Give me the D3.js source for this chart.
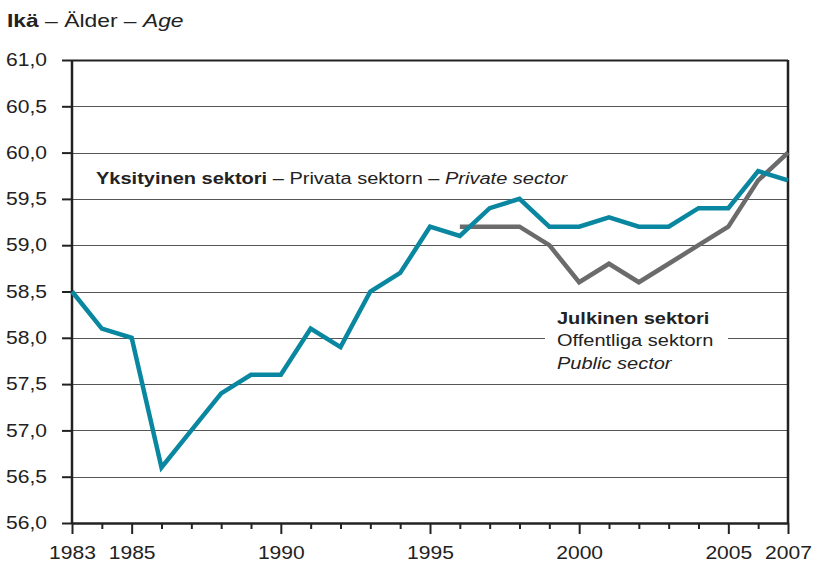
<!DOCTYPE html>
<html>
<head>
<meta charset="utf-8">
<script src="https://cdn.jsdelivr.net/npm/d3@7/dist/d3.min.js"></script>
<style>
  body { margin: 0; background: #fff; }
  svg { font-family: "Liberation Sans", Arial, sans-serif; }
</style>
</head>
<body>
<script>
(function () {
  "use strict";

  var years = d3.range(1983, 2008);
  var privateAge = [58.5, 58.1, 58.0, 56.6, 57.0, 57.4, 57.6, 57.6, 58.1, 57.9,
                    58.5, 58.7, 59.2, 59.1, 59.4, 59.5, 59.2, 59.2, 59.3, 59.2,
                    59.2, 59.4, 59.4, 59.8, 59.7];
  var publicYears = d3.range(1996, 2008);
  var publicAge = [59.2, 59.2, 59.2, 59.0, 58.6, 58.8, 58.6, 58.8, 59.0, 59.2, 59.7, 60.0];
  var yTicks = [56.0, 56.5, 57.0, 57.5, 58.0, 58.5, 59.0, 59.5, 60.0, 60.5, 61.0];
  var xLabels = [1983, 1985, 1990, 1995, 2000, 2005, 2007];

  var margin = {top: 60, right: 32, bottom: 42, left: 72},
      outerWidth = 820,
      outerHeight = 565,
      width = outerWidth - margin.left - margin.right,
      height = outerHeight - margin.top - margin.bottom,
      stretch = 1.25,
      tickStretch = 1.17;

  // the original type is set wide: stretch text horizontally
  function widen(selection, k) {
    selection.each(function () {
      var el = d3.select(this);
      var xv = +el.attr('x') || 0;
      el.attr('x', xv / k).attr('transform', 'scale(' + k + ',1)');
      el.selectAll('tspan').each(function () {
        var t = d3.select(this);
        if (t.attr('x') !== null) { t.attr('x', +t.attr('x') / k); }
      });
    });
  }

  var svg = d3.select('body').append('svg')
      .attr('width', outerWidth)
      .attr('height', outerHeight);

  var g = svg.append('g')
      .attr('transform', 'translate(' + margin.left + ',' + margin.top + ')');

  var x = d3.scaleLinear().domain([1983, 2007]).range([0, width]);
  var y = d3.scaleLinear().domain([56, 61]).range([height, 0]);
  var fmt = function (d) { return d3.format('.1f')(d).replace('.', ','); };

  // title
  var title = svg.append('text')
      .attr('x', 7).attr('y', 27)
      .style('font-size', '18px').style('fill', '#222');
  title.append('tspan').style('font-weight', 'bold').text('Ikä');
  title.append('tspan').text(' – Älder – ');
  title.append('tspan').style('font-style', 'italic').text('Age');
  widen(title, 1.27);

  // gridlines
  g.selectAll('.grid')
      .data(yTicks.slice(1))
      .enter()
    .append('line')
      .attr('class', 'grid')
      .attr('x1', 0).attr('x2', width)
      .attr('y1', function (d) { return Math.round(y(d)) + 0.5; })
      .attr('y2', function (d) { return Math.round(y(d)) + 0.5; })
      .style('stroke', function (d) { return d === 61 ? '#222' : '#555'; })
      .style('stroke-width', function (d) { return d === 61 ? 2 : 1; });

  // right border
  g.append('line')
      .attr('x1', width).attr('x2', width)
      .attr('y1', 0).attr('y2', height)
      .style('stroke', '#222').style('stroke-width', 2.5);

  // y axis
  var yAxis = g.append('g')
      .call(d3.axisLeft(y).tickValues(yTicks).tickFormat(fmt).tickSize(10).tickPadding(15));
  yAxis.select('.domain').remove();
  yAxis.selectAll('line').style('stroke', '#222').style('stroke-width', 2);
  yAxis.selectAll('text').style('font-size', '18px').style('fill', '#222')
      .style('font-family', '"Liberation Sans", Arial, sans-serif')
      .call(widen, tickStretch);
  g.append('line')
      .attr('x1', 0).attr('x2', 0).attr('y1', 0).attr('y2', height)
      .style('stroke', '#222').style('stroke-width', 2.5);

  // x axis: minor ticks every year, longer ticks at labelled years
  var xAxis = g.append('g')
      .attr('transform', 'translate(0,' + height + ')')
      .call(d3.axisBottom(x).tickValues(years).tickSizeInner(6).tickSizeOuter(0)
        .tickFormat(function (d) { return xLabels.indexOf(d) >= 0 ? d : ''; }).tickPadding(17));
  xAxis.select('.domain').style('stroke', '#222').style('stroke-width', 2.5);
  xAxis.selectAll('.tick line')
      .attr('y2', function (d) { return xLabels.indexOf(d) >= 0 ? 11 : 6; })
      .style('stroke', '#222').style('stroke-width', 2);
  xAxis.selectAll('text').style('font-size', '18px').style('fill', '#222')
      .style('font-family', '"Liberation Sans", Arial, sans-serif')
      .call(widen, tickStretch);

  // public sector label background covering gridline
  g.append('rect')
      .attr('x', 545 - margin.left).attr('y', 300 - margin.top)
      .attr('width', 728 - 545).attr('height', 75)
      .style('fill', '#fff');

  var line = d3.line()
      .x(function (d) { return x(d[0]); })
      .y(function (d) { return y(d[1]); });

  g.append('path')
      .datum(d3.zip(publicYears, publicAge))
      .attr('d', line)
      .style('fill', 'none').style('stroke', '#6b6b6b')
      .style('stroke-width', 4.5).style('stroke-linejoin', 'miter');

  g.append('path')
      .datum(d3.zip(years, privateAge))
      .attr('d', line)
      .style('fill', 'none').style('stroke', '#0a87a0')
      .style('stroke-width', 4.5).style('stroke-linejoin', 'miter');

  // labels
  var pl = svg.append('text')
      .attr('x', 96).attr('y', 184)
      .style('font-size', '16px').style('fill', '#222');
  pl.append('tspan').style('font-weight', 'bold').text('Yksityinen sektori');
  pl.append('tspan').text(' – Privata sektorn – ');
  pl.append('tspan').style('font-style', 'italic').text('Private sector');
  widen(pl, stretch);

  var pub = svg.append('text')
      .style('font-size', '16px').style('fill', '#222');
  pub.append('tspan').attr('x', 557).attr('y', 324).style('font-weight', 'bold').text('Julkinen sektori');
  pub.append('tspan').attr('x', 557).attr('y', 346).text('Offentliga sektorn');
  pub.append('tspan').attr('x', 557).attr('y', 369).style('font-style', 'italic').text('Public sector');
  widen(pub, stretch);
}());
</script>
</body>
</html>
